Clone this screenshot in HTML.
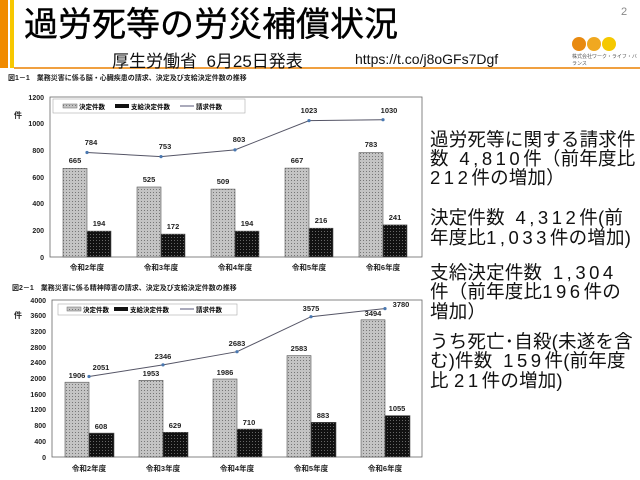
<!DOCTYPE html>
<html><head><meta charset="utf-8"><style>
body{margin:0;width:640px;height:480px;background:#fff;overflow:hidden;position:relative;font-family:"Liberation Sans","Noto Sans CJK JP",sans-serif}
.t{position:absolute;left:430px;font-size:18.5px;line-height:19px;white-space:nowrap;color:#111;letter-spacing:0.2px}
.n{letter-spacing:3.5px}
</style></head><body>
<div style="position:absolute;left:0;top:0;width:8px;height:68px;background:#f08a00"></div>
<div style="position:absolute;left:10px;top:0;width:4px;height:68px;background:#f7c800"></div>
<div style="position:absolute;left:14px;top:67px;width:626px;height:2px;background:#f0a040"></div>
<div style="position:absolute;left:24px;top:4px;font-size:34px;line-height:42px;color:#000;-webkit-text-stroke:0.4px #000">過労死等の労災補償状況</div>
<div style="position:absolute;left:112px;top:47px;font-size:17px;color:#111">厚生労働省&nbsp;&nbsp;6月25日発表</div>
<div style="position:absolute;left:355px;top:51px;font-size:14px;color:#111">https://t.co/j8oGFs7Dgf</div>
<div style="position:absolute;left:621px;top:6px;font-size:11px;color:#888">2</div>
<div style="position:absolute;left:572px;top:37px;width:14px;height:14px;border-radius:50%;background:#e88a10"></div>
<div style="position:absolute;left:587px;top:37px;width:14px;height:14px;border-radius:50%;background:#f0a820"></div>
<div style="position:absolute;left:602px;top:37px;width:14px;height:14px;border-radius:50%;background:#f5c800"></div>
<div style="position:absolute;left:572px;top:53px;font-size:5px;color:#555">株式会社ワーク・ライフ・バランス</div>
<svg width="640" height="480" style="position:absolute;left:0;top:0" font-family="Liberation Sans,Noto Sans CJK JP,sans-serif">
<defs>
<pattern id="g" width="3" height="3" patternUnits="userSpaceOnUse"><rect width="3" height="3" fill="#c4c4c4"/><rect width="1" height="1" fill="#777"/></pattern>
<pattern id="k" width="3" height="3" patternUnits="userSpaceOnUse"><rect width="3" height="3" fill="#111"/><rect width="1" height="1" fill="#666"/></pattern>
</defs>
<text x="8" y="80" font-size="7" font-weight="bold" fill="#222">図1－1　業務災害に係る脳・心臓疾患の請求、決定及び支給決定件数の推移</text>
<g font-size="7" font-weight="bold" fill="#222" text-anchor="end">
<text x="44" y="100">1200</text><text x="44" y="126">1000</text><text x="44" y="153">800</text><text x="44" y="180">600</text><text x="44" y="206">400</text><text x="44" y="233">200</text><text x="44" y="260">0</text></g>
<text x="14" y="118" font-size="8" font-weight="bold" fill="#222">件</text>
<rect x="50" y="97" width="372" height="160" fill="none" stroke="#666" stroke-width="0.8"/>
<rect x="53" y="99" width="192" height="14" fill="#fff" stroke="#aaa" stroke-width="0.6"/>
<rect x="63" y="104" width="14" height="4" fill="url(#g)" stroke="#666" stroke-width="0.5"/><text x="79" y="109" font-size="6.5" font-weight="bold">決定件数</text>
<rect x="115" y="104" width="14" height="4" fill="#111"/><text x="131" y="109" font-size="6.5" font-weight="bold">支給決定件数</text>
<line x1="180" y1="106" x2="194" y2="106" stroke="#557" /><text x="196" y="109" font-size="6.5" font-weight="bold">請求件数</text>
<g stroke="#555" stroke-width="0.6">
<rect x="63" y="168.3" width="24" height="88.7" fill="url(#g)"/><rect x="87" y="231.1" width="24" height="25.9" fill="url(#k)"/>
<rect x="137" y="187" width="24" height="70" fill="url(#g)"/><rect x="161" y="234.1" width="24" height="22.9" fill="url(#k)"/>
<rect x="211" y="189.1" width="24" height="67.9" fill="url(#g)"/><rect x="235" y="231.1" width="24" height="25.9" fill="url(#k)"/>
<rect x="285" y="168.1" width="24" height="88.9" fill="url(#g)"/><rect x="309" y="228.2" width="24" height="28.8" fill="url(#k)"/>
<rect x="359" y="152.6" width="24" height="104.4" fill="url(#g)"/><rect x="383" y="224.9" width="24" height="32.1" fill="url(#k)"/>
</g>
<polyline points="87,152.5 161,156.6 235,149.9 309,120.6 383,119.7" fill="none" stroke="#556" stroke-width="1"/>
<g fill="#4a78b0"><circle cx="87" cy="152.5" r="1.6"/><circle cx="161" cy="156.6" r="1.6"/><circle cx="235" cy="149.9" r="1.6"/><circle cx="309" cy="120.6" r="1.6"/><circle cx="383" cy="119.7" r="1.6"/></g>
<g font-size="7.5" font-weight="bold" fill="#222" text-anchor="middle">
<text x="91" y="145">784</text><text x="165" y="149">753</text><text x="239" y="142">803</text><text x="309" y="113">1023</text><text x="389" y="113">1030</text>
<text x="75" y="163">665</text><text x="149" y="182">525</text><text x="223" y="184">509</text><text x="297" y="163">667</text><text x="371" y="147">783</text>
<text x="99" y="226">194</text><text x="173" y="229">172</text><text x="247" y="226">194</text><text x="321" y="223">216</text><text x="395" y="220">241</text>
<text x="87" y="270">令和2年度</text><text x="161" y="270">令和3年度</text><text x="235" y="270">令和4年度</text><text x="309" y="270">令和5年度</text><text x="383" y="270">令和6年度</text>
</g>
<text x="12" y="290" font-size="7" font-weight="bold" fill="#222">図2－1　業務災害に係る精神障害の請求、決定及び支給決定件数の推移</text>
<g font-size="7" font-weight="bold" fill="#222" text-anchor="end">
<text x="46" y="303">4000</text><text x="46" y="318">3600</text><text x="46" y="334">3200</text><text x="46" y="350">2800</text><text x="46" y="365">2400</text><text x="46" y="381">2000</text><text x="46" y="397">1600</text><text x="46" y="412">1200</text><text x="46" y="428">800</text><text x="46" y="444">400</text><text x="46" y="460">0</text></g>
<text x="14" y="318" font-size="8" font-weight="bold" fill="#222">件</text>
<rect x="52" y="300" width="370" height="157" fill="none" stroke="#666" stroke-width="0.8"/>
<rect x="58" y="304" width="179" height="11" fill="#fff" stroke="#aaa" stroke-width="0.6"/>
<rect x="67" y="307" width="14" height="4" fill="url(#g)" stroke="#666" stroke-width="0.5"/><text x="83" y="312" font-size="6.5" font-weight="bold">決定件数</text>
<rect x="114" y="307" width="14" height="4" fill="#111"/><text x="130" y="312" font-size="6.5" font-weight="bold">支給決定件数</text>
<line x1="180" y1="309" x2="194" y2="309" stroke="#557"/><text x="196" y="312" font-size="6.5" font-weight="bold">請求件数</text>
<g stroke="#555" stroke-width="0.6">
<rect x="65" y="382.2" width="24" height="74.8" fill="url(#g)"/><rect x="89" y="433.1" width="25" height="23.9" fill="url(#k)"/>
<rect x="139" y="380.3" width="24" height="76.7" fill="url(#g)"/><rect x="163" y="432.3" width="25" height="24.7" fill="url(#k)"/>
<rect x="213" y="379" width="24" height="78" fill="url(#g)"/><rect x="237" y="429.1" width="25" height="27.9" fill="url(#k)"/>
<rect x="287" y="355.6" width="24" height="101.4" fill="url(#g)"/><rect x="311" y="422.3" width="25" height="34.7" fill="url(#k)"/>
<rect x="361" y="319.8" width="24" height="137.2" fill="url(#g)"/><rect x="385" y="415.6" width="25" height="41.4" fill="url(#k)"/>
</g>
<polyline points="89,376.5 163,364.9 237,351.7 311,316.7 385,308.6" fill="none" stroke="#556" stroke-width="1"/>
<g fill="#4a78b0"><circle cx="89" cy="376.5" r="1.6"/><circle cx="163" cy="364.9" r="1.6"/><circle cx="237" cy="351.7" r="1.6"/><circle cx="311" cy="316.7" r="1.6"/><circle cx="385" cy="308.6" r="1.6"/></g>
<g font-size="7.5" font-weight="bold" fill="#222" text-anchor="middle">
<text x="101" y="370">2051</text><text x="163" y="359">2346</text><text x="237" y="346">2683</text><text x="311" y="311">3575</text><text x="401" y="307">3780</text>
<text x="77" y="378">1906</text><text x="151" y="376">1953</text><text x="225" y="375">1986</text><text x="299" y="351">2583</text><text x="373" y="316">3494</text>
<text x="101" y="429">608</text><text x="175" y="428">629</text><text x="249" y="425">710</text><text x="323" y="418">883</text><text x="397" y="411">1055</text>
<text x="89" y="471">令和2年度</text><text x="163" y="471">令和3年度</text><text x="237" y="471">令和4年度</text><text x="311" y="471">令和5年度</text><text x="385" y="471">令和6年度</text>
</g>
</svg>
<div class="t" style="top:130px">過労死等に関する請求件</div>
<div class="t" style="top:149px">数&nbsp;&nbsp;<span class="n">4,810</span>件（前年度比</div>
<div class="t" style="top:168px"><span class="n">212</span>件の増加）</div>
<div class="t" style="top:208px">決定件数&nbsp;&nbsp;<span class="n">4,312</span>件(前</div>
<div class="t" style="top:228px">年度比<span class="n">1,033</span>件の増加)</div>
<div class="t" style="top:263px">支給決定件数&nbsp;&nbsp;<span class="n">1,304</span></div>
<div class="t" style="top:282px">件（前年度比<span class="n">196</span>件の</div>
<div class="t" style="top:302px">増加）</div>
<div class="t" style="top:332px">うち死亡･自殺(未遂を含</div>
<div class="t" style="top:351px">む)件数&nbsp;&nbsp;<span class="n">159</span>件(前年度</div>
<div class="t" style="top:371px">比&nbsp;<span class="n">21</span>件の増加)</div>
</body></html>
